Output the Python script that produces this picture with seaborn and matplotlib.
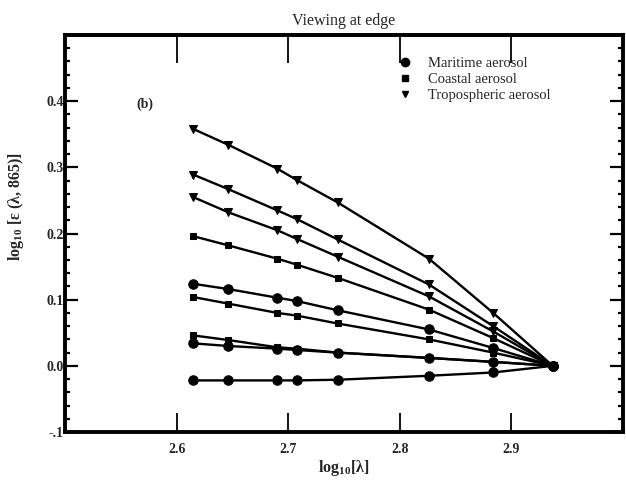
import numpy as np
import pandas as pd
import matplotlib
matplotlib.use("Agg")
import matplotlib.pyplot as plt
import seaborn as sns
from matplotlib.lines import Line2D
from matplotlib.ticker import FixedLocator, FixedFormatter, MultipleLocator, NullLocator

# Band wavelengths (nm) and the epsilon curves, log10 scale
wavelengths = [412, 443, 490, 510, 555, 670, 765, 865]

tropospheric_a = [0.358, 0.334, 0.298, 0.281, 0.247, 0.162, 0.080, 0.0]
tropospheric_b = [0.289, 0.267, 0.235, 0.222, 0.191, 0.123, 0.060, 0.0]
tropospheric_c = [0.255, 0.232, 0.205, 0.192, 0.165, 0.105, 0.052, 0.0]
coastal_a = [0.196, 0.182, 0.162, 0.153, 0.133, 0.085, 0.042, 0.0]
maritime_a = [0.124, 0.116, 0.103, 0.098, 0.084, 0.055, 0.027, 0.0]
coastal_b = [0.104, 0.094, 0.080, 0.076, 0.064, 0.040, 0.020, 0.0]
coastal_c = [0.046, 0.039, 0.028, 0.026, 0.020, 0.012, 0.006, 0.0]
maritime_b = [0.034, 0.030, 0.026, 0.024, 0.020, 0.012, 0.006, 0.0]
maritime_c = [-0.022, -0.022, -0.022, -0.022, -0.021, -0.015, -0.010, 0.0]

aerosol_names = ["Maritime aerosol", "Coastal aerosol", "Tropospheric aerosol"]
curves = [
    ("Tropospheric aerosol", tropospheric_a),
    ("Tropospheric aerosol", tropospheric_b),
    ("Tropospheric aerosol", tropospheric_c),
    ("Coastal aerosol", coastal_a),
    ("Maritime aerosol", maritime_a),
    ("Coastal aerosol", coastal_b),
    ("Coastal aerosol", coastal_c),
    ("Maritime aerosol", maritime_b),
    ("Maritime aerosol", maritime_c),
]

x_ticks = [2.6, 2.7, 2.8, 2.9]
x_tick_labels = ["2.6", "2.7", "2.8", "2.9"]
y_ticks = [-0.1, 0.0, 0.1, 0.2, 0.3, 0.4, 0.5]
y_tick_labels = ["-.1", "0.0", "0.1", "0.2", "0.3", "0.4", ""]

sns.set_theme(style="ticks")
plt.rcParams["font.family"] = ["Liberation Serif", "DejaVu Serif"]
plt.rcParams["mathtext.fontset"] = "custom"
plt.rcParams["mathtext.rm"] = "Liberation Serif"
plt.rcParams["mathtext.bf"] = "Liberation Serif:bold"
plt.rcParams["mathtext.default"] = "regular"

markers = {"Maritime aerosol": "o", "Coastal aerosol": "s", "Tropospheric aerosol": "v"}
msizes = {"Maritime aerosol": 6.8, "Coastal aerosol": 4.8, "Tropospheric aerosol": 6.0}
leg_sizes = {"Maritime aerosol": 6.0, "Coastal aerosol": 4.0, "Tropospheric aerosol": 5.0}

log_wl = np.log10(wavelengths)
frames = []
for i, (name, vals) in enumerate(curves):
    frames.append(pd.DataFrame({"log_wl": log_wl, "value": vals,
                                "aerosol": name, "curve": i}))
df = pd.concat(frames, ignore_index=True)

fig = plt.figure(figsize=(6.26, 4.82), dpi=100)
ax = fig.add_axes([0.1038, 0.1037, 0.8914, 0.8237])

for i, sub in df.groupby("curve"):
    name = sub["aerosol"].iloc[0]
    sns.lineplot(data=sub, x="log_wl", y="value", ax=ax, color="black",
                 linewidth=1.7, marker=markers[name], markersize=msizes[name],
                 markeredgecolor="black", markerfacecolor="black",
                 estimator=None, sort=False, legend=False)

ax.set_xlim(2.5, 3.0)
ax.set_ylim(-0.1, 0.5)
ax.xaxis.set_major_locator(FixedLocator(x_ticks))
ax.xaxis.set_major_formatter(FixedFormatter(x_tick_labels))
ax.yaxis.set_major_locator(FixedLocator(y_ticks))
ax.yaxis.set_major_formatter(FixedFormatter(y_tick_labels))
ax.yaxis.set_minor_locator(MultipleLocator(0.02))
ax.xaxis.set_minor_locator(NullLocator())

for side in ["left", "right", "top", "bottom"]:
    ax.spines[side].set_visible(True)
    ax.spines[side].set_linewidth(2.8)
    ax.spines[side].set_color("black")

ax.tick_params(axis="both", which="both", direction="in", color="black",
               right=True, top=False, labelsize=10)
ax.tick_params(axis="x", which="major", length=14, width=1.3, pad=8)
ax.tick_params(axis="y", which="major", length=9.5, width=1.6, pad=1)
ax.tick_params(axis="y", which="minor", length=3.5, width=1.6)
for lab in ax.get_xticklabels() + ax.get_yticklabels():
    lab.set_fontweight("bold")

# longer inward ticks along the top edge
top = ax.secondary_xaxis("top")
top.xaxis.set_major_locator(FixedLocator(x_ticks))
top.tick_params(axis="x", direction="in", length=20, width=1.3,
                labeltop=False, color="black")
top.spines["top"].set_linewidth(2.8)

ax.set_xlabel(r"log$_{10}$[λ]", fontsize=11.5, fontweight="bold", labelpad=1)
ax.set_ylabel(r"log$_{10}$ [ε (λ, 865)]", fontsize=11.5, fontweight="bold")
ax.yaxis.set_label_coords(-0.07, 0.567)
ax.set_title("Viewing at edge", fontsize=11.5, pad=7)

ax.text(2.572, 0.395, "(b)", fontsize=10, fontweight="bold",
        ha="center", va="center")

handles = [Line2D([], [], linestyle="none", marker=markers[n], markersize=leg_sizes[n],
                  color="black") for n in aerosol_names]
leg = ax.legend(handles, aerosol_names, loc="upper left",
                bbox_to_anchor=(0.596, 0.945), frameon=False, fontsize=10.5,
                borderpad=0, borderaxespad=0, handletextpad=1.1,
                labelspacing=0.2, handlelength=1.0)

fig.savefig("out.png", dpi=100, facecolor="white")
